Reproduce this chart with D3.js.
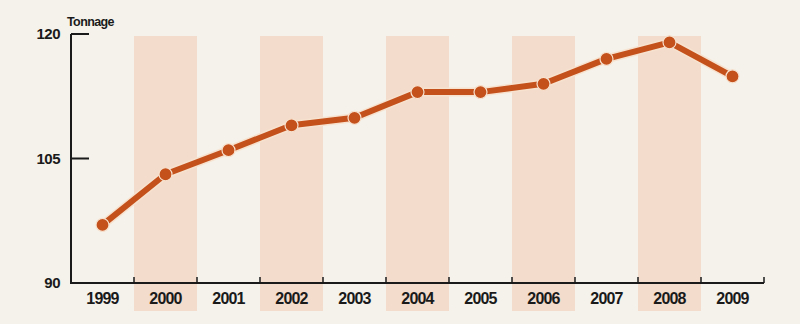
<!DOCTYPE html>
<html>
<head>
<meta charset="utf-8">
<script src="https://cdn.jsdelivr.net/npm/d3@7"></script>
<style>
  body { margin: 0; background: #f4f2ea; }
  svg { display: block; }
  text { font-family: "Liberation Sans", Arial, sans-serif; font-weight: bold; fill: #1a1a1a; }
</style>
</head>
<body>
<script>
var years = ["1999","2000","2001","2002","2003","2004","2005","2006","2007","2008","2009"];
var tonnage = [97.0, 103.1, 106.0, 109.0, 109.9, 113.0, 113.0, 114.0, 117.0, 119.0, 114.9];
var yTicks = [90, 105, 120];
var shaded = ["2000","2002","2004","2006","2008"];

var width = 800, height = 324;

var svg = d3.select("body").append("svg").attr("width", width).attr("height", height);

var x = d3.scaleBand().domain(years).range([71, 764]).padding(0);
var y = d3.scaleLinear().domain([90, 120]).range([283, 34]);

// shaded columns
svg.append("g").selectAll("rect")
  .data(shaded)
  .enter().append("rect")
    .attr("x", function(d){ return x(d); })
    .attr("y", 36)
    .attr("width", x.bandwidth())
    .attr("height", 275)
    .attr("fill", "#f3dccb");

// y axis
var yAxis = svg.append("g").attr("transform", "translate(71,0)");
yAxis.append("line")
  .attr("x1", 0).attr("x2", 0)
  .attr("y1", y(120)).attr("y2", y(90))
  .attr("stroke", "#1a1a1a").attr("stroke-width", 2);
yAxis.selectAll("line.tick")
  .data(yTicks.filter(function(d){ return d != 90; }))
  .enter().append("line")
    .attr("class", "tick")
    .attr("x1", 0).attr("x2", 18)
    .attr("y1", function(d){ return y(d); })
    .attr("y2", function(d){ return y(d); })
    .attr("stroke", "#1a1a1a").attr("stroke-width", 2);
yAxis.selectAll("text")
  .data(yTicks)
  .enter().append("text")
    .attr("x", -11)
    .attr("y", function(d){ return y(d); })
    .attr("dy", "0.36em")
    .attr("text-anchor", "end")
    .attr("font-size", 15)
    .attr("letter-spacing", -0.5)
    .text(function(d){ return d; });

svg.append("text")
  .attr("x", 67).attr("y", 26)
  .attr("font-size", 12.5)
  .attr("letter-spacing", -0.6)
  .text("Tonnage");

// x axis
var xAxis = svg.append("g").attr("transform", "translate(0,283)");
xAxis.append("line")
  .attr("x1", 70).attr("x2", 764)
  .attr("y1", 0).attr("y2", 0)
  .attr("stroke", "#1a1a1a").attr("stroke-width", 2);
xAxis.selectAll("line.tick")
  .data(years)
  .enter().append("line")
    .attr("class", "tick")
    .attr("x1", function(d){ return x(d) + x.bandwidth(); })
    .attr("x2", function(d){ return x(d) + x.bandwidth(); })
    .attr("y1", 0).attr("y2", -6)
    .attr("stroke", "#1a1a1a").attr("stroke-width", 1.5);
xAxis.selectAll("text")
  .data(years)
  .enter().append("text")
    .attr("x", function(d){ return x(d) + x.bandwidth() / 2; })
    .attr("y", 21)
    .attr("text-anchor", "middle")
    .attr("font-size", 16)
    .attr("letter-spacing", -0.8)
    .text(function(d){ return d; });

// line
var line = d3.line()
  .x(function(d, i){ return x(years[i]) + x.bandwidth() / 2; })
  .y(function(d){ return y(d); });

var series = svg.append("g");
series.append("path")
  .datum(tonnage)
  .attr("d", line)
  .attr("fill", "none")
  .attr("stroke", "#f7e2cf")
  .attr("stroke-width", 9)
  .attr("stroke-linejoin", "round");
series.append("path")
  .datum(tonnage)
  .attr("d", line)
  .attr("fill", "none")
  .attr("stroke", "#c4501b")
  .attr("stroke-width", 6)
  .attr("stroke-linejoin", "round");
series.selectAll("circle")
  .data(tonnage)
  .enter().append("circle")
    .attr("cx", function(d, i){ return x(years[i]) + x.bandwidth() / 2; })
    .attr("cy", function(d){ return y(d); })
    .attr("r", 6.5)
    .attr("fill", "#c4501b")
    .attr("stroke", "#f7e2cf")
    .attr("stroke-width", 1.2);
</script>
</body>
</html>
